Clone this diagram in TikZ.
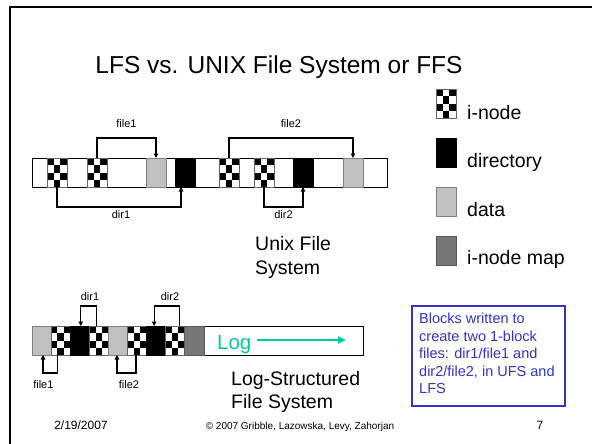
\documentclass[tikz,border=0pt]{standalone}
\usepackage{fontspec}
\setmainfont{Liberation Sans}
\usetikzlibrary{arrows.meta,calc}
\definecolor{logteal}{RGB}{0,204,153}
\definecolor{noteblue}{RGB}{51,51,204}
\definecolor{datagray}{RGB}{192,192,192}
\definecolor{mapgray}{RGB}{119,119,119}
\begin{document}
\begin{tikzpicture}[x=1pt,y=-1pt,
  blk/.style={rectangle, inner sep=0pt, outer sep=0pt, minimum height=29pt, minimum width=#1, line width=0.8pt, anchor=north west},
  blk/.default=20pt,
  barbox/.style={rectangle, draw=black, fill=white, line width=1pt, inner sep=0pt, outer sep=0pt, minimum height=29pt, minimum width=#1, anchor=north west},
  barbox/.default=100pt,
  datab/.style={blk=#1, draw=black!50, fill=datagray},
  datab/.default=20pt,
  dirb/.style={blk=#1, draw=black, fill=black},
  dirb/.default=20pt,
  mapb/.style={blk=#1, draw=black!65, fill=mapgray},
  mapb/.default=20pt,
  inodeb/.style={blk=#1, draw=black!60, fill=white,
    path picture={\foreach \cc/\rr in {0/0,2/0,1/1,0/2,2/2,1/3}
      {\fill[black] ([xshift={\cc*#1/3},yshift={-\rr*7.25pt}]path picture bounding box.north west) rectangle ++({#1/3},-7.25pt);}}},
  inodeb/.default=20pt,
  arr/.style={draw=black, line width=1.2pt, -{Triangle[length=4.5pt,width=4.5pt]}},
  lbl/.style={font=\fontsize{11}{13}\selectfont, anchor=base, inner sep=0pt},
  big/.style={font=\fontsize{19.5}{23}\selectfont, anchor=base west, inner sep=0pt},
  foot/.style={anchor=base, inner sep=0pt},
  frameline/.style={line width=2pt, draw=black}
]
\useasboundingbox (0,0) rectangle (592,444);
\fill[white] (0,0) rectangle (592,444);
% slide frame
\draw[frameline] (592,6.7) -- (10,6.7) -- (10,444);

% title
\node[anchor=base, inner sep=0pt, font=\fontsize{24.5}{29}\selectfont] (title) at (279,74) {LFS vs. UNIX File System or FFS};

% ---------- Unix FS bar ----------
\node[barbox=355pt] (bar1) at (32,158) {};
\node[inodeb] (u1) at (47,158) {};
\node[inodeb] (u2) at (87,158) {};
\node[datab] (u3) at (146,158) {};
\node[dirb] (u4) at (175,158) {};
\node[inodeb] (u5) at (219,158) {};
\node[inodeb] (u6) at (254,158) {};
\node[dirb] (u7) at (293,158) {};
\node[datab] (u8) at (343,158) {};

\draw[arr] (u2.north) -- ++(0,-20) coordinate (f1c) -| (u3.north);
\node[lbl] (f1l) at ($(f1c)!0.5!(f1c -| u3.north) + (0,-10)$) {file1};
\draw[arr] (u5.north) -- ++(0,-20) coordinate (f2c) -| (u8.north);
\node[lbl] (f2l) at ($(f2c)!0.5!(f2c -| u8.north) + (0,-10)$) {file2};
\draw[arr] (u1.south) -- ++(0,20) coordinate (d1c) -| ([xshift=-4pt]u4.south);
\node[lbl] (d1l) at ($(d1c)!0.5!(d1c -| u4.south) + (0,11.5)$) {dir1};
\draw[arr] (u6.south) -- ++(0,20) coordinate (d2c) -| (u7.south);
\node[lbl] (d2l) at ($(d2c)!0.5!(d2c -| u7.south) + (0,11.5)$) {dir2};

\node[big] (ufs1) at (255,250.5) {Unix File};
\node[big] (ufs2) at (255,274) {System};

% ---------- LFS bar ----------
\node[barbox=331pt] (bar2) at (32,326) {};
\node[datab=19.1pt] (l1) at (32,326) {};
\node[inodeb=19.1pt] (l2) at (51.1,326) {};
\node[dirb=19.1pt] (l3) at (70.2,326) {};
\node[inodeb=19.1pt] (l4) at (89.3,326) {};
\node[datab=19.1pt] (l5) at (108.4,326) {};
\node[inodeb=19.1pt] (l6) at (127.5,326) {};
\node[dirb=19.1pt] (l7) at (146.6,326) {};
\node[inodeb=19.1pt] (l8) at (165.7,326) {};
\node[mapb=19.1pt] (l9) at (184.8,326) {};

\draw[arr] ([xshift=-2.5pt]l4.north) -- ++(0,-20) coordinate (ld1c) -| ([xshift=1pt]l3.north);
\node[lbl] (ld1l) at ($(ld1c)!0.5!(ld1c -| l3.north) + (2,-5.5)$) {dir1};
\draw[arr] ([xshift=4.5pt]l8.north) -- ++(0,-20) coordinate (ld2c) -| ([xshift=-2pt]l7.north);
\node[lbl] (ld2l) at ($(ld2c)!0.5!(ld2c -| l7.north) + (2,-5.5)$) {dir2};
\draw[arr] ([xshift=-3.5pt]l2.south) -- ++(0,18) coordinate (lf1c) -| ([xshift=1.5pt]l1.south);
\node[lbl] (lf1l) at ($(lf1c)!0.5!(lf1c -| l1.south) + (-6,15)$) {file1};
\draw[arr] ([xshift=-1pt]l6.south) -- ++(0,18) coordinate (lf2c) -| ([xshift=-1pt]l5.south);
\node[lbl] (lf2l) at ($(lf2c)!0.5!(lf2c -| l5.south) + (2,15)$) {file2};

\node[anchor=base west, inner sep=0pt, text=logteal, font=\fontsize{20.5}{24}\selectfont] (logt) at (217,349) {Log};
\coordinate (logs) at (257,340);
\coordinate (loge) at (346,340);
\draw[draw=logteal, line width=2pt, -{Triangle[length=8pt,width=7pt]}] (logs) -- (loge);

\node[big] (lfs1) at (231,385) {Log-Structured};
\node[big] (lfs2) at (231,408.5) {File System};

% ---------- legend ----------
\node[inodeb] (k1) at (436,89) {};
\node[dirb] (k2) at (436,138) {};
\node[datab] (k3) at (436,187) {};
\node[mapb] (k4) at (436,236) {};
\node[big] (k1t) at (467,119.5) {i-node};
\node[big] (k2t) at (467,167.5) {directory};
\node[big] (k3t) at (467,216) {data};
\node[big] (k4t) at (467,264) {i-node map};

% ---------- note box ----------
\node[rectangle, draw=noteblue, line width=1.8pt, fill=white, minimum width=153pt, minimum height=100pt, anchor=north west, inner sep=0pt] (note) at (411,305) {};
\node[anchor=north west, inner sep=0pt, align=left, text=noteblue, font=\fontsize{14.5}{17.5}\selectfont] (notet) at ([xshift=8pt,yshift=-7.9pt]note.north west)
  {Blocks written to\\create two 1-block\\files: dir1/file1 and\\dir2/file2, in UFS and\\LFS};

% ---------- footer ----------
\node[foot, font=\fontsize{12}{14}\selectfont] (date) at (81,429) {2/19/2007};
\node[foot, font=\fontsize{10}{12}\selectfont] (copy) at (300,429) {© 2007 Gribble, Lazowska, Levy, Zahorjan};
\node[foot, font=\fontsize{12}{14}\selectfont] (page) at (540,429) {7};
\end{tikzpicture}
\end{document}
